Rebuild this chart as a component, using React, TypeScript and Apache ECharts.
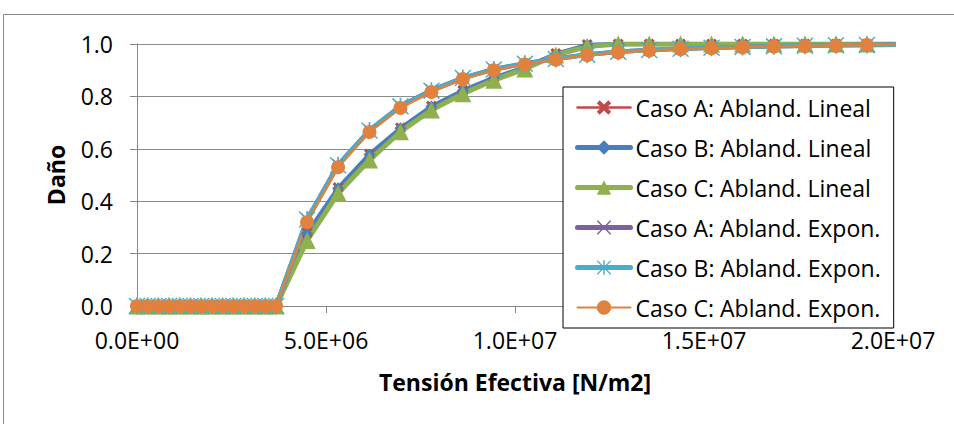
import React, { useEffect, useRef } from "react";
import * as echarts from "echarts";

const FONT = "'Open Sans', 'Noto Sans', sans-serif";

// Effective stress [N/m2]
const X_STRESS = [
  0, 283000, 566000, 849000, 1132000, 1415000, 1698000, 1981000, 2264000, 2547000,
  2830000, 3113000, 3396000, 3680000, 4500000, 5320000, 6150000, 6970000, 7790000,
  8620000, 9440000, 10260000, 11080000, 11910000, 12730000, 13550000, 14380000,
  15200000, 16020000, 16850000, 17670000, 18490000, 19310000, 20140000,
];

const A_LIN = [
  0, 0, 0, 0, 0, 0, 0, 0, 0, 0, 0, 0, 0, 0,
  0.28, 0.452, 0.58, 0.68, 0.763, 0.823, 0.872, 0.913, 0.964, 0.998,
  1, 1, 1, 1, 1, 1, 1, 1, 1, 1,
];
const B_LIN = [
  0, 0, 0, 0, 0, 0, 0, 0, 0, 0, 0, 0, 0, 0,
  0.277, 0.449, 0.578, 0.678, 0.761, 0.822, 0.871, 0.911, 0.962, 0.996,
  1, 1, 1, 1, 1, 1, 1, 1, 1, 1,
];
const C_LIN = [
  0, 0, 0, 0, 0, 0, 0, 0, 0, 0, 0, 0, 0, 0,
  0.25, 0.43, 0.557, 0.665, 0.748, 0.81, 0.862, 0.905, 0.958, 0.99,
  1, 1, 1, 1, 1, 1, 1, 1, 1, 1,
];
const A_EXP = [
  0, 0, 0, 0, 0, 0, 0, 0, 0, 0, 0, 0, 0, 0,
  0.331, 0.539, 0.671, 0.763, 0.823, 0.871, 0.904, 0.926, 0.944, 0.96,
  0.97, 0.977, 0.982, 0.986, 0.989, 0.991, 0.993, 0.995, 0.996, 0.997,
];
const B_EXP = [
  0, 0, 0, 0, 0, 0, 0, 0, 0, 0, 0, 0, 0, 0,
  0.33, 0.537, 0.67, 0.762, 0.822, 0.87, 0.903, 0.925, 0.943, 0.959,
  0.97, 0.977, 0.982, 0.986, 0.989, 0.991, 0.993, 0.995, 0.996, 0.997,
];
const C_EXP = [
  0, 0, 0, 0, 0, 0, 0, 0, 0, 0, 0, 0, 0, 0,
  0.32, 0.53, 0.664, 0.756, 0.817, 0.866, 0.9, 0.922, 0.94, 0.957,
  0.968, 0.975, 0.98, 0.984, 0.987, 0.99, 0.992, 0.994, 0.996, 0.997,
];

const NAMES = [
  "Caso A: Abland. Lineal",
  "Caso B: Abland. Lineal",
  "Caso C: Abland. Lineal",
  "Caso A: Abland. Expon.",
  "Caso B: Abland. Expon.",
  "Caso C: Abland. Expon.",
];

const X_TITLE = "Tensión Efectiva [N/m2]";
const Y_TITLE = "Daño";

const THICK_X = "path://M0,2L2,0L5,3L8,0L10,2L7,5L10,8L8,10L5,7L2,10L0,8L3,5Z";
const THIN_X = "path://M0,0.7L0.7,0L5,4.3L9.3,0L10,0.7L5.7,5L10,9.3L9.3,10L5,5.7L0.7,10L0,9.3L4.3,5Z";
const STAR =
  "path://M0,0.6L0.6,0L5,4.4L9.4,0L10,0.6L5.6,5L10,9.4L9.4,10L5,5.6L0.6,10L0,9.4L4.4,5ZM4.5,0L5.5,0L5.5,10L4.5,10Z";

const COLORS = ["#BE4B48", "#4A7EBB", "#8EB04E", "#7D60A0", "#4BACC6", "#E0823D"];
const LINE_W = [2, 4.5, 5, 4.5, 4.5, 2.5];
const LEGEND_LINE_W = [2.5, 5, 5, 5, 5, 2];
const SYMBOLS = [THICK_X, "diamond", "triangle", THIN_X, STAR, "circle"];
const SYMBOL_SIZES = [11, 12, 17, 12, 17, 14];

function sci(v: number): string {
  if (v === 0) return "0.0E+00";
  const e = Math.floor(Math.log10(Math.abs(v)) + 1e-9);
  const m = v / Math.pow(10, e);
  return m.toFixed(1) + "E" + (e < 0 ? "-" : "+") + String(Math.abs(e)).padStart(2, "0");
}

function pairs(ys: number[]) {
  return X_STRESS.map((x, i) => [x, ys[i]]);
}

export default function App() {
  const ref = useRef<HTMLDivElement>(null);
  useEffect(() => {
    const chart = echarts.init(ref.current!, null, { renderer: "svg" });
    const allY = [A_LIN, B_LIN, C_LIN, A_EXP, B_EXP, C_EXP];
    const series = allY.map((ys, i) => ({
      name: NAMES[i],
      type: "line",
      data: pairs(ys),
      symbol: SYMBOLS[i],
      symbolSize: SYMBOL_SIZES[i],
      showAllSymbol: true,
      clip: true,
      lineStyle: { color: COLORS[i], width: LINE_W[i], join: "round", cap: "round" },
      itemStyle: { color: COLORS[i], borderWidth: 0, opacity: 1 },
      emphasis: { disabled: true },
    }));
    chart.setOption({
      animation: false,
      backgroundColor: "#fff",
      textStyle: { fontFamily: FONT },
      graphic: [
        {
          type: "rect",
          shape: { x: 3.5, y: 14.5, width: 1000, height: 500 },
          style: { fill: "none", stroke: "#8a8a8a", lineWidth: 1 },
          silent: true,
          z: -10,
        },
      ],
      grid: { left: 137, right: 61, top: 44, bottom: 118, containLabel: false },
      legend: {
        orient: "vertical",
        left: 563,
        top: 87,
        padding: [9, 13, 9, 12],
        itemWidth: 53,
        itemHeight: 18,
        itemGap: 17,
        backgroundColor: "#fff",
        borderColor: "#000",
        borderWidth: 1,
        textStyle: { fontFamily: FONT, fontSize: 23, color: "#000" },
        data: NAMES.map((n, i) => ({
          name: n,
          lineStyle: { width: LEGEND_LINE_W[i], color: COLORS[i], cap: "round" },
        })),
      },
      xAxis: {
        type: "value",
        min: 0,
        max: 20000000,
        interval: 5000000,
        name: X_TITLE,
        nameLocation: "middle",
        nameGap: 64,
        nameTextStyle: { fontFamily: FONT, fontSize: 23, fontWeight: "bold", color: "#000" },
        axisLine: { show: true, lineStyle: { color: "#868686", width: 1 } },
        axisTick: { show: true, length: 7, lineStyle: { color: "#868686", width: 1 } },
        splitLine: { show: false },
        axisLabel: {
          fontFamily: FONT,
          fontSize: 23,
          color: "#000",
          margin: 22,
          formatter: (v: number) => sci(v),
        },
      },
      yAxis: {
        type: "value",
        min: 0,
        max: 1,
        interval: 0.2,
        name: Y_TITLE,
        nameLocation: "middle",
        nameGap: 70,
        nameRotate: 90,
        nameTextStyle: { fontFamily: FONT, fontSize: 23, fontWeight: "bold", color: "#000" },
        axisLine: { show: true, lineStyle: { color: "#868686", width: 1 } },
        axisTick: { show: true, length: 7, lineStyle: { color: "#868686", width: 1 } },
        splitLine: { show: true, lineStyle: { color: "#8c8c8c", width: 1 } },
        axisLabel: {
          fontFamily: FONT,
          fontSize: 23,
          color: "#000",
          margin: 24,
          formatter: (v: number) => v.toFixed(1),
        },
      },
      series,
    });
    return () => chart.dispose();
  }, []);
  return (
    <div
      ref={ref}
      style={{ position: "fixed", left: 0, top: 0, width: 954, height: 424 }}
    />
  );
}
